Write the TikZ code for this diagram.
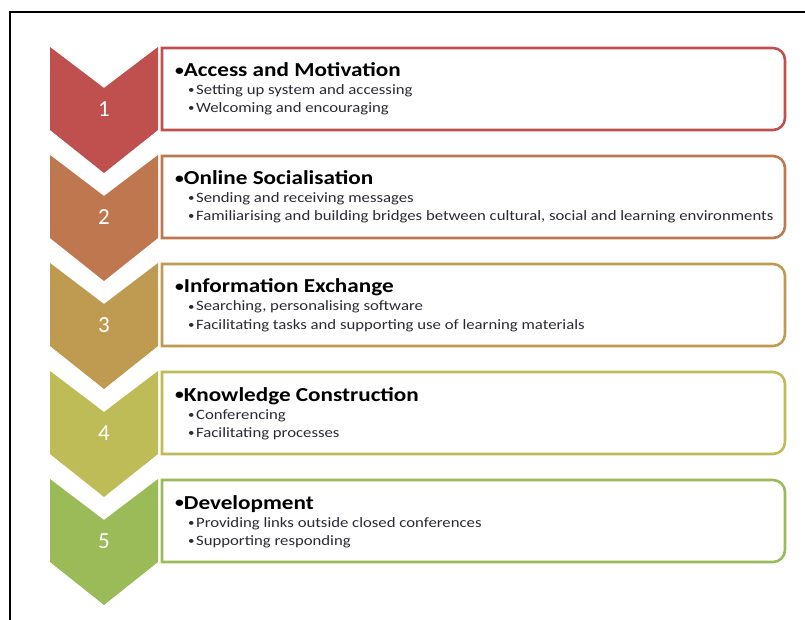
\documentclass[tikz,border=0pt]{standalone}
\usepackage{fontspec}
\setmainfont{Carlito}
\newfontfamily\stretchfont[FakeStretch=1.17]{Carlito}
\definecolor{cA}{HTML}{C0504D}
\definecolor{cB}{HTML}{BF774F}
\definecolor{cC}{HTML}{BF9B52}
\definecolor{cD}{HTML}{BDBC56}
\definecolor{cE}{HTML}{9BBB59}
\definecolor{subtext}{HTML}{2A2A35}
\newcommand{\tbul}{\raisebox{1.5pt}{\fontsize{15}{15}\selectfont •}}
\newcommand{\sbul}{\raisebox{1pt}{\fontsize{11}{11}\selectfont •}\hspace{1.5pt}}
\tikzset{
  ttlstyle/.style={anchor=base west, inner sep=0pt, font=\stretchfont\bfseries\fontsize{19.8}{22}\selectfont, text=black},
  substyle/.style={anchor=base west, inner sep=0pt, font=\stretchfont\fontsize{14.3}{16}\selectfont, text=subtext},
  numstyle/.style={inner sep=0pt, text=white, font=\fontsize{23}{26}\selectfont},
  boxstyle/.style={line width=2.6pt, fill=white}
}
\begin{document}
\begin{tikzpicture}[x=1pt,y=1pt]
\useasboundingbox (0,0) rectangle (805,619);
\fill[white] (0,0) rectangle (805,619);
\coordinate (frameB) at (10,-5);
\coordinate (frameTL) at (10,607);
\coordinate (frameR) at (812,607);
\draw[line width=2pt] (frameB) -- (frameTL) -- (frameR);
\foreach \k/\col/\ttl/\la/\lb/\n in {
  0/cA/{Access and Motivation}/{Setting up system and accessing}/{Welcoming and encouraging}/1,
  1/cB/{Online Socialisation}/{Sending and receiving messages}/{Familiarising and building bridges between cultural, social and learning environments}/2,
  2/cC/{Information Exchange}/{Searching, personalising software}/{Facilitating tasks and supporting use of learning materials}/3,
  3/cD/{Knowledge Construction}/{Conferencing}/{Facilitating processes}/4,
  4/cE/{Development}/{Providing links outside closed conferences}/{Supporting responding}/5}{
  \pgfmathsetmacro{\Yt}{572-108*\k}
  % chevron
  \fill[\col] (50,\Yt) -- (104,\Yt-41) -- (158,\Yt) -- (158,\Yt-83) -- (104,\Yt-126) -- (50,\Yt-83) -- cycle;
  \node[numstyle] (num\k) at (104,\Yt-62) {\n};
  % box
  \draw[boxstyle, draw=\col] (162,\Yt-1) -- (773,\Yt-1) arc[start angle=90,end angle=0,radius=12]
     -- (785,\Yt-71) arc[start angle=0,end angle=-90,radius=12] -- (162,\Yt-83) -- cycle;
  \node[ttlstyle] (ttl\k) at (175,\Yt-30) {\tbul\ttl};
  \node[substyle] (la\k) at (188,\Yt-48) {\sbul\la};
  \node[substyle] (lb\k) at (188,\Yt-66) {\sbul\lb};
}
\end{tikzpicture}
\end{document}
